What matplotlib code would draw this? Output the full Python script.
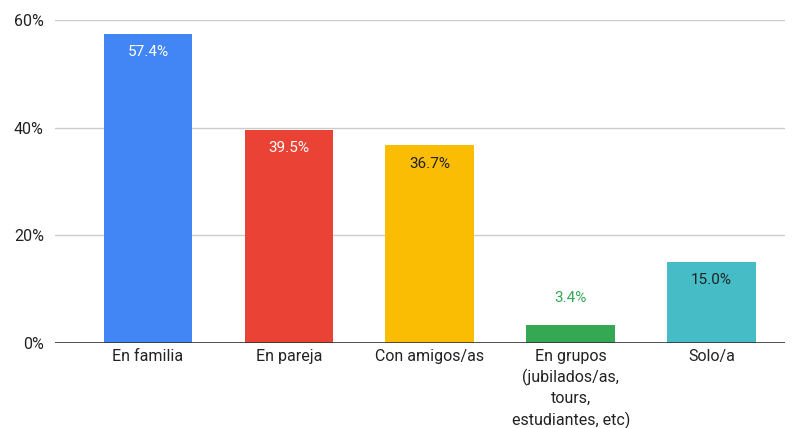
import matplotlib.pyplot as plt
from matplotlib.ticker import FuncFormatter

categories = [
    "En familia",
    "En pareja",
    "Con amigos/as",
    "En grupos\n(jubilados/as,\ntours,\nestudiantes, etc)",
    "Solo/a",
]
values = [57.4, 39.5, 36.7, 3.4, 15.0]
colors = ["#4285F4", "#EA4335", "#FBBC04", "#34A853", "#46BDC6"]
label_colors = ["white", "white", "#202124", "#34A853", "#202124"]
label_inside = [True, True, True, False, True]

plt.rcParams["font.family"] = ["Roboto", "DejaVu Sans"]

fig = plt.figure(figsize=(7.94, 4.28), dpi=100)
ax = fig.add_axes([55 / 794, 1 - 343 / 428, 730 / 794, 323 / 428])

x = list(range(len(categories)))
ax.bar(x, values, width=0.63, color=colors, zorder=3)

for xi, v, lc, inside in zip(x, values, label_colors, label_inside):
    if inside:
        ax.annotate(f"{v:.1f}%", (xi, v), xytext=(0, -8), textcoords="offset points",
                    ha="center", va="top", color=lc, fontsize=11, zorder=4)
    else:
        ax.annotate(f"{v:.1f}%", (xi, v), xytext=(0, 14), textcoords="offset points",
                    ha="center", va="bottom", color=lc, fontsize=11, zorder=4)

ax.set_xlim(-0.66, 4.52)
ax.set_ylim(0, 60)
ax.set_yticks([0, 20, 40, 60])
ax.yaxis.set_major_formatter(FuncFormatter(lambda v, p: f"{v:.0f}%"))
ax.grid(axis="y", color="#cccccc", linewidth=1, zorder=0)
ax.axhline(0, color="#333333", linewidth=1.2, zorder=5)

for s in ax.spines.values():
    s.set_visible(False)
ax.tick_params(axis="both", length=0, labelsize=11.5, colors="#222222")
ax.tick_params(axis="y", pad=8)
ax.tick_params(axis="x", pad=4)
ax.set_xticks(x)
ax.set_xticklabels(categories, linespacing=1.4)

fig.savefig("out.png", dpi=100)
